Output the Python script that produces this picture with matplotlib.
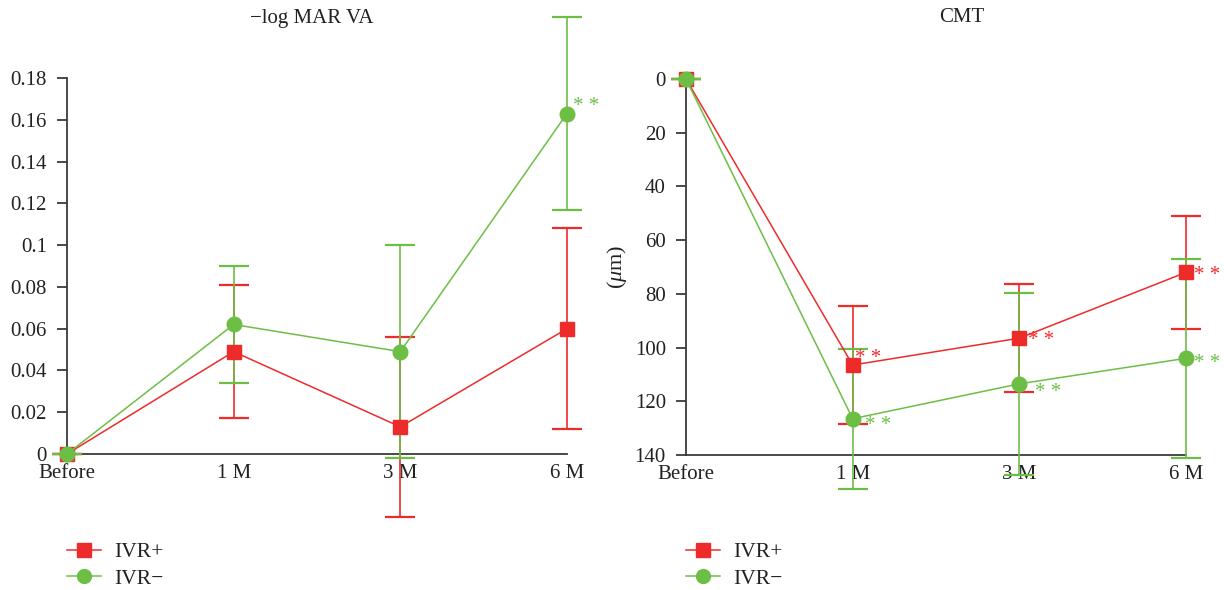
import matplotlib
matplotlib.use("Agg")
import matplotlib.pyplot as plt
from matplotlib.lines import Line2D

plt.rcParams['font.family'] = ['Liberation Serif', 'DejaVu Serif']
plt.rcParams['mathtext.fontset'] = 'custom'
plt.rcParams['mathtext.it'] = 'Liberation Serif:italic'

categories = ["Before", "1 M", "3 M", "6 M"]

va_plus = [0, 0.049, 0.013, 0.060]
va_plus_err = [0, 0.032, 0.043, 0.048]
va_minus = [0, 0.062, 0.049, 0.163]
va_minus_err = [0, 0.028, 0.051, 0.046]

cmt_plus = [0, 106.5, 96.5, 72]
cmt_plus_err = [0, 22, 20, 21]
cmt_minus = [0, 126.5, 113.5, 104]
cmt_minus_err = [0, 26, 34, 37]

va_stars_minus = [False, False, False, True]
cmt_stars_plus = [False, True, True, True]
cmt_stars_minus = [False, True, True, True]

RED = '#EE2B2B'
GREEN = '#6DBE45'
AX = '#3a3a3a'
TXT = '#222222'

fig = plt.figure(figsize=(12.24, 5.9), dpi=100)
ax1 = fig.add_axes([67/1224, 1-454/590, 500/1224, 376/590])
ax2 = fig.add_axes([686/1224, 1-455/590, 500/1224, 376/590])

x = list(range(len(categories)))

def draw(ax, yp, ep, ym, em):
    for y, e, c, m, ms in [(yp, ep, RED, 's', 10.5), (ym, em, GREEN, 'o', 10.5)]:
        ax.errorbar(x, y, yerr=e, color=c, marker=m, markersize=ms, lw=1.1,
                    elinewidth=1.2, capsize=11, capthick=1.6, clip_on=False,
                    ecolor=c, zorder=3)
    for s in ['top', 'right']:
        ax.spines[s].set_visible(False)
    for s in ['left', 'bottom']:
        ax.spines[s].set_color(AX)
        ax.spines[s].set_linewidth(1.3)
    ax.set_xlim(0, 3)
    ax.set_xticks(x)
    ax.set_xticklabels(categories)
    ax.tick_params(axis='x', length=0, labelsize=15, pad=7, colors=TXT)
    ax.tick_params(axis='y', length=7.5, width=1.3, pad=7, labelsize=15, colors=AX, labelcolor=TXT)

draw(ax1, va_plus, va_plus_err, va_minus, va_minus_err)
ax1.set_ylim(0, 0.18)
ax1.set_yticks([0, 0.02, 0.04, 0.06, 0.08, 0.1, 0.12, 0.14, 0.16, 0.18])
ax1.set_yticklabels(['0', '0.02', '0.04', '0.06', '0.08', '0.1', '0.12', '0.14', '0.16', '0.18'])

draw(ax2, cmt_plus, cmt_plus_err, cmt_minus, cmt_minus_err)
ax2.set_ylim(140, 0)
ax2.set_yticks(range(0, 141, 20))
ax2.set_ylabel(r'($\mathit{\mu}$m)', fontsize=16, labelpad=4, color=TXT)

def stars(ax, ys, flags, color, dx, dy):
    for xi, yi, f, ddx, ddy in zip(x, ys, flags, dx, dy):
        if f:
            ax.annotate('* *', (xi, yi), xytext=(ddx, ddy), textcoords='offset points',
                        color=color, fontsize=15, va='center', ha='left',
                        annotation_clip=False)

stars(ax1, va_minus, va_stars_minus, GREEN, [0, 0, 0, 4], [0, 0, 0, 5])
stars(ax2, cmt_plus, cmt_stars_plus, RED, [0, 2, 6, 6], [0, 5, -2, -2])
stars(ax2, cmt_minus, cmt_stars_minus, GREEN, [0, 9, 11, 6], [0, -5, -6, -4])

fig.text(312/1224, 1-18/590, '\u2212log MAR VA', ha='center', va='center', fontsize=15, color=TXT)
fig.text(962/1224, 1-18/590, 'CMT', ha='center', va='center', fontsize=15, color=TXT)

handles = [Line2D([], [], color=RED, marker='s', markersize=10, lw=1.1),
           Line2D([], [], color=GREEN, marker='o', markersize=10, lw=1.1)]
labels = ['IVR+', 'IVR\u2212']
for bx in [67/1224, 686/1224]:
    fig.legend(handles, labels, loc='upper left', bbox_to_anchor=(bx, 1-542/590),
               frameon=False, fontsize=15.5, handlelength=1.6, labelspacing=0.3,
               handletextpad=0.6, borderpad=0, borderaxespad=0, labelcolor=TXT)

fig.savefig('out.png', dpi=100)
